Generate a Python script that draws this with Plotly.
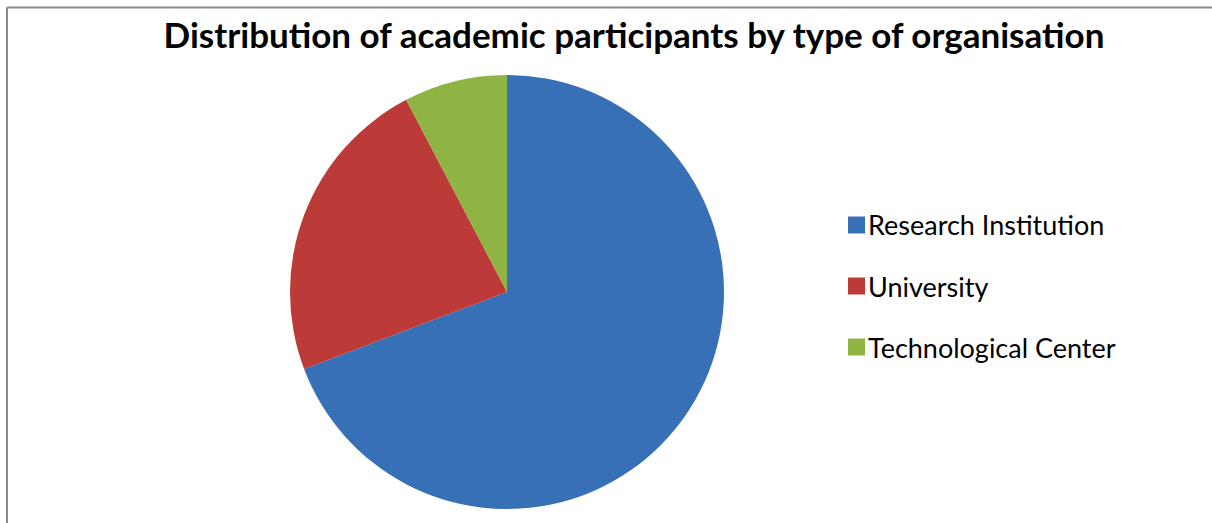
import plotly.graph_objects as go

categories = ["Research Institution", "University", "Technological Center"]
values = [9, 3, 1]
colors = ["#3870B8", "#BC3A37", "#8FB443"]
title_text = "Distribution of academic participants by type of organisation"

W, H = 1212, 523

def px_x(x):
    return x / W

def px_y(y):
    return 1 - y / H

fig = go.Figure()
fig.add_trace(go.Pie(
    labels=categories,
    values=values,
    marker=dict(colors=colors, line=dict(width=0)),
    sort=False,
    direction="clockwise",
    rotation=0,
    textinfo="none",
    showlegend=False,
    domain=dict(x=[px_x(290), px_x(724)], y=[px_y(509), px_y(75)]),
))

shapes = [
    dict(type="line", xref="paper", yref="paper", x0=px_x(7), x1=1, y0=px_y(7.5), y1=px_y(7.5),
         line=dict(color="#8a8a8a", width=2)),
    dict(type="line", xref="paper", yref="paper", x0=px_x(7), x1=px_x(7), y0=0, y1=px_y(7.5),
         line=dict(color="#8a8a8a", width=2)),
]
annotations = []
leg_y0, leg_dy = 225, 61
for i, (cat, col) in enumerate(zip(categories, colors)):
    yc = leg_y0 + i * leg_dy
    shapes.append(dict(type="rect", xref="paper", yref="paper",
                       x0=px_x(848), x1=px_x(865), y0=px_y(yc + 8.5), y1=px_y(yc - 8.5),
                       fillcolor=col, line=dict(width=0)))
    annotations.append(dict(text=cat, xref="paper", yref="paper", x=px_x(866), y=px_y(yc),
                            xanchor="left", yanchor="middle", showarrow=False,
                            font=dict(family="Lato", size=27, color="#000000")))

fig.update_layout(
    width=W, height=H,
    margin=dict(l=0, r=0, t=0, b=0),
    paper_bgcolor="white",
    plot_bgcolor="white",
    title=dict(text="<b>" + title_text + "</b>", x=634 / W, xanchor="center",
               y=1 - 36 / H, yanchor="middle", yref="container",
               font=dict(family="Lato", size=35, color="#000000")),
    shapes=shapes,
    annotations=annotations,
)

fig.write_html("out.html")
